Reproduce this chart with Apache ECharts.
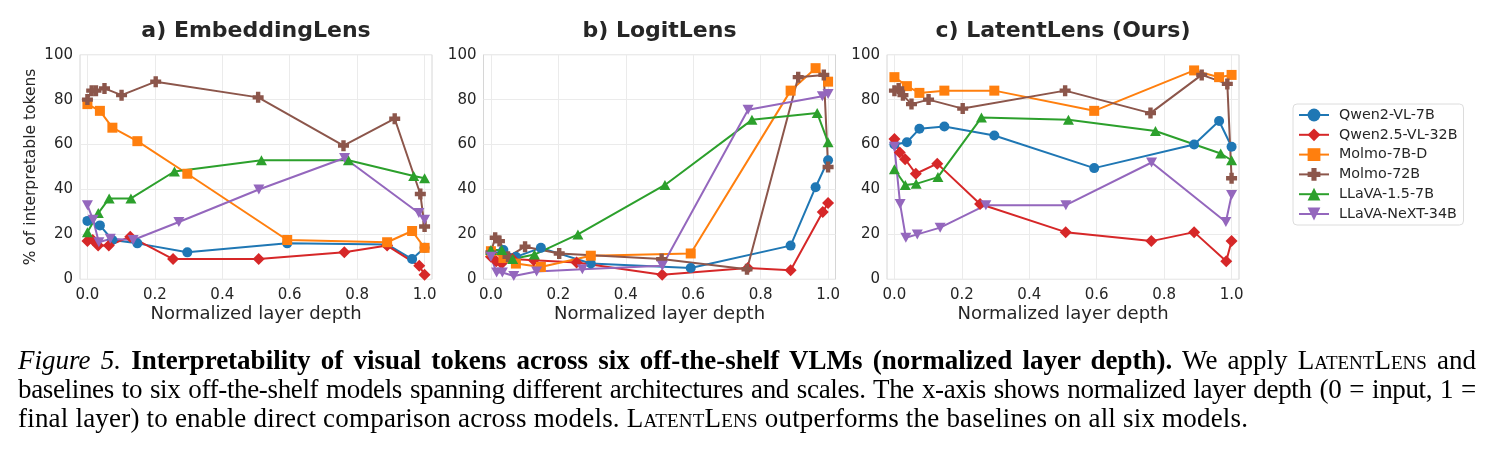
<!DOCTYPE html>
<html>
<head>
<meta charset="utf-8">
<script src="https://cdn.jsdelivr.net/npm/echarts@6/dist/echarts.min.js"></script>
<style>
  html, body { margin: 0; padding: 0; background: #fff; }
  #wrap { position: relative; width: 1491px; height: 456px; overflow: hidden; }
  #chart { position: absolute; left: 0; top: 0; width: 1491px; height: 456px; }
  #caption { position: absolute; left: 18px; top: 346px; width: 1458px;
    font-family: "Liberation Serif", "DejaVu Serif", serif; font-size: 27px; line-height: 29px; color: #000; }
  #caption .ln { white-space: nowrap; }
  #caption .j { text-align: justify; text-align-last: justify; }
  #caption .l2 { letter-spacing: -0.35px; }
  #caption .l3 { letter-spacing: 0.2px; }
  .sc { font-variant: small-caps; }
</style>
</head>
<body>
<div id="wrap">
  <div id="chart"></div>
  <div id="caption">
    <div class="ln j"><i>Figure 5.</i> <b>Interpretability of visual tokens across six off-the-shelf VLMs (normalized layer depth).</b> We apply <span class="sc">LatentLens</span> and</div>
    <div class="ln j l2">baselines to six off-the-shelf models spanning different architectures and scales. The x-axis shows normalized layer depth (0 = input, 1 =</div>
    <div class="ln l3">final layer) to enable direct comparison across models. <span class="sc">LatentLens</span> outperforms the baselines on all six models.</div>
  </div>
</div>
<script>
// ---------------- DATA ----------------
const panelTitles = ["a) EmbeddingLens", "b) LogitLens", "c) LatentLens (Ours)"];
const models = ["Qwen2-VL-7B", "Qwen2.5-VL-32B", "Molmo-7B-D", "Molmo-72B", "LLaVA-1.5-7B", "LLaVA-NeXT-34B"];
const xTicks = [0, 0.2, 0.4, 0.6, 0.8, 1.0];
const yTicks = [0, 20, 40, 60, 80, 100];

// layer indices probed for each model, and the index of its final layer
const layersQwen2 = [0, 1, 2, 4, 8, 16, 24, 26, 27];           const lastQwen2 = 27;
const layersQwen25 = [0, 1, 2, 4, 8, 16, 32, 48, 56, 62, 63];  const lastQwen25 = 63;
const layersMolmo7 = [0, 1, 2, 4, 8, 16, 24, 26, 27];           const lastMolmo7 = 27;
const layersMolmo72 = [0, 1, 2, 4, 8, 16, 40, 60, 72, 78, 79];  const lastMolmo72 = 79;
const layersLlava15 = [0, 1, 2, 4, 8, 16, 24, 30, 31];          const lastLlava15 = 31;
const layersLlavaNext = [0, 1, 2, 4, 8, 16, 30, 45, 58, 59];    const lastLlavaNext = 59;

// a) EmbeddingLens (% interpretable tokens)
const embQwen2     = [26, 24, 17.5, 16, 12, 16, 15.5, 9, 14];
const embQwen25    = [17, 17.5, 15, 15, 19, 9, 9, 12, 15, 6, 2];
const embMolmo7    = [78, 75, 67.5, 61.5, 47, 17.5, 16.5, 21.5, 14];
const embMolmo72   = [80, 84, 84, 85, 82, 88, 81, 59.5, 71.5, 38, 23.5];
const embLlava15   = [21, 29.5, 36, 36, 48, 53, 53, 46, 45];
const embLlavaNext = [33, 26.5, 16.5, 18, 17.5, 25.5, 40, 54, 29.5, 26.5];

// b) LogitLens
const logQwen2     = [11, 13, 10, 14, 7, 5, 15, 41, 53];
const logQwen25    = [10, 8, 7, 9, 8.5, 7.5, 2, 5, 4, 30, 34];
const logMolmo7    = [12.5, 9.5, 7, 5.5, 10.5, 11.5, 84, 94, 88];
const logMolmo72   = [12, 18.5, 17, 10, 14.5, 11.5, 9, 4.5, 90, 91, 50];
const logLlava15   = [13, 13, 9, 11, 20, 42, 71, 74, 61];
const logLlavaNext = [10, 3, 3, 1.5, 3.5, 4.5, 6, 75.5, 81.5, 82.5];

// c) LatentLens (Ours)
const latQwen2     = [60, 61, 67, 68, 64, 49.5, 60, 70.5, 59];
const latQwen25    = [62.5, 56.5, 53.5, 47, 51.5, 33.5, 21, 17, 21, 8, 17];
const latMolmo7    = [90, 86, 83, 84, 84, 75, 93, 90, 91];
const latMolmo72   = [84, 85, 82, 78, 80, 76, 84, 74, 91, 87, 45];
const latLlava15   = [49, 42, 42.5, 45.5, 72, 71, 66, 56, 53];
const latLlavaNext = [59, 33.5, 18.5, 20, 23, 33, 33, 52, 25.5, 37.5];

// ---------------- STYLE ----------------
const colors = ["#1f77b4", "#d62728", "#ff7f0e", "#8c564b", "#2ca02c", "#9467bd"];
const PLUS = 'path://M3,0L7,0L7,3L10,3L10,7L7,7L7,10L3,10L3,7L0,7L0,3L3,3Z';
const TRI_DOWN = 'path://M0,0L10,0L5,9Z';
const TRI_UP = 'path://M5,0L10,9L0,9Z';
const symbols = ['circle', 'diamond', 'rect', PLUS, TRI_UP, TRI_DOWN];
const symbolSizes = [10, 12, 10, 11, [11, 10], [11, 10]];

const layerSets = [
  [layersQwen2, lastQwen2], [layersQwen25, lastQwen25], [layersMolmo7, lastMolmo7],
  [layersMolmo72, lastMolmo72], [layersLlava15, lastLlava15], [layersLlavaNext, lastLlavaNext]
];
const panelValues = [
  [embQwen2, embQwen25, embMolmo7, embMolmo72, embLlava15, embLlavaNext],
  [logQwen2, logQwen25, logMolmo7, logMolmo72, logLlava15, logLlavaNext],
  [latQwen2, latQwen25, latMolmo7, latMolmo72, latLlava15, latLlavaNext]
];

const gridLefts = [80, 483.5, 887];
const gridWidth = 352;
const gridTop = 54.7;
const gridHeight = 224.6;
const FONT = '"DejaVu Sans", sans-serif';
const TXT = '#262626';

const grids = [], xAxes = [], yAxes = [], series = [], graphics = [];
for (let p = 0; p < 3; p++) {
  grids.push({ left: gridLefts[p], top: gridTop, width: gridWidth, height: gridHeight,
    show: true, borderColor: '#d6d6d6', borderWidth: 1, backgroundColor: '#fff', containLabel: false });
  xAxes.push({
    type: 'value', gridIndex: p, min: -0.022, max: 1.022,
    name: 'Normalized layer depth', nameLocation: 'middle', nameGap: 26,
    nameTextStyle: { fontFamily: FONT, fontSize: 18, color: TXT },
    axisLine: { show: false }, axisTick: { show: false, customValues: xTicks },
    axisLabel: { customValues: xTicks, margin: 8, fontFamily: FONT, fontSize: 15, color: TXT,
      formatter: v => v.toFixed(1) },
    splitLine: { show: true, lineStyle: { color: '#ebebeb', width: 1 } }
  });
  yAxes.push({
    type: 'value', gridIndex: p, min: 0, max: 100, interval: 20,
    name: p === 0 ? '% of interpretable tokens' : '', nameLocation: 'middle', nameGap: 41,
    nameTextStyle: { fontFamily: FONT, fontSize: 15.5, color: TXT },
    axisLine: { show: false }, axisTick: { show: false },
    axisLabel: { margin: 7, fontFamily: FONT, fontSize: 15, color: TXT },
    splitLine: { show: true, lineStyle: { color: '#ebebeb', width: 1 } }
  });
  graphics.push({ type: 'text', x: gridLefts[p] + gridWidth / 2, y: 31,
    style: { text: panelTitles[p], fill: TXT, font: 'bold 22px ' + FONT,
      textAlign: 'center', textVerticalAlign: 'middle' } });
  for (let m = 0; m < models.length; m++) {
    const [layers, last] = layerSets[m];
    const vals = panelValues[p][m];
    series.push({
      type: 'line', name: models[m], xAxisIndex: p, yAxisIndex: p,
      data: layers.map((l, i) => [l / last, vals[i]]),
      symbol: symbols[m], symbolSize: symbolSizes[m], showSymbol: true,
      lineStyle: { color: colors[m], width: 2 },
      itemStyle: { color: colors[m], borderWidth: 0 },
      emphasis: { disabled: true }, silent: true, animation: false,
      clip: false
    });
  }
}

const chart = echarts.init(document.getElementById('chart'), null, { renderer: 'canvas' });
chart.setOption({
  animation: false,
  color: colors,
  grid: grids, xAxis: xAxes, yAxis: yAxes, series: series,
  graphic: graphics,
  legend: {
    data: models, orient: 'vertical', left: 1293, top: 104,
    padding: [4, 6, 4, 5], itemWidth: 30, itemHeight: 16, itemGap: 5.8,
    borderColor: '#dcdcdc', borderWidth: 1, borderRadius: 4, backgroundColor: '#fff',
    textStyle: { fontFamily: FONT, fontSize: 14.3, color: TXT, padding: [0, 0, 0, 5] },
    selectedMode: false
  }
});
</script>
</body>
</html>
